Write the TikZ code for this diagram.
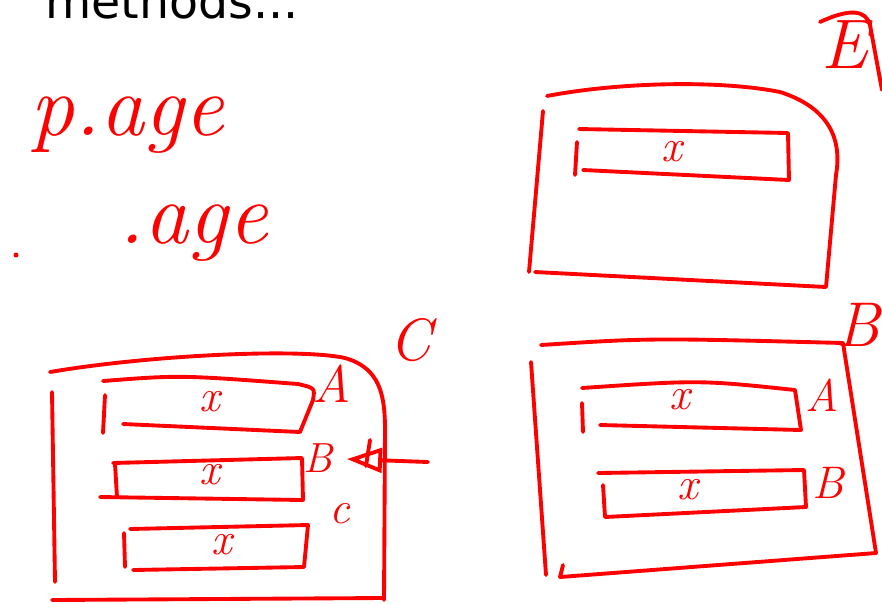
\documentclass[tikz,border=0pt]{standalone}
\usepackage{fontspec}
\newfontfamily\headfont{DejaVu Sans}
\usetikzlibrary{arrows.meta}

\begin{document}
\begin{tikzpicture}[x=0.02cm,y=-0.02cm,
 pen/.style={red,line width=2.2pt,line cap=round,line join=round},
 hand/.style={red,inner sep=0pt,font=\itshape\fontsize{#1}{#1}\selectfont},
 hand/.default=26]
\useasboundingbox (0,0) rectangle (882,603);
\clip (0,0) rectangle (882,603);
\node[anchor=base west,inner sep=0pt,font=\headfont\fontsize{27}{27}\selectfont] (title) at (45,18) {methods...};
\node[hand=50,anchor=base west] (page) at (30,135) {p.age};
\node[hand=50,anchor=base west] (age) at (118,243) {.age};
\fill[red] (16,255) circle (2.5);
% top right box E
\node[hand=40] (eLbl) at (845,45) {E};
\draw[pen] (820,22) .. controls (850,8) and (866,10) .. (870,25) -- (882,90);
\draw[pen] (547,96) .. controls (620,82) and (720,80) .. (780,92) .. controls (830,108) and (842,140) .. (836,175) -- (826,287) -- (535,272)
 (543,111) -- (529,272);
\draw[pen] (579,129) -- (788,133) -- (789,180) -- (583,170) (577,142) -- (575,175);
\node[hand] (eX) at (672,152) {x};
% bottom left box C
\node[hand=34] (cLbl) at (410,340) {C};
\draw[pen] (50,372) .. controls (150,355) and (300,348) .. (345,358) .. controls (380,368) and (385,395) .. (385,430) -- (384,600)
 (52,600) -- (383,598) (52,392) -- (55,582);
\draw[pen] (103,381) .. controls (180,375) .. (298,384) .. controls (315,388) .. (313,400) -- (300,432) -- (123,424) (105,395) -- (103,433);
\draw[pen] (113,463) -- (302,458) -- (303,500) -- (100,497) (115,464) -- (117,497);
\draw[pen] (130,529) -- (308,525) -- (304,567) -- (133,570) (124,533) -- (125,567);
\node[hand] (cAx) at (210,402) {x};
\node[hand] (cBx) at (210,475) {x};
\node[hand] (cCx) at (222,545) {x};
\node[hand=30] (cA) at (332,384) {A};
\node[hand=24] (cB) at (318,458) {B};
\node[hand=26] (cC) at (340,514) {c};
\coordinate (tail) at (428,462);
\draw[pen,-{Triangle[open,length=20pt,width=14pt]},shorten >=8pt] (tail) -- (cB);
\draw[pen] (370,440) -- (366,466);
% bottom right box B
\node[hand=36] (bLbl) at (858,325) {B};
\draw[pen] (541,345) .. controls (650,338) .. (843,343) -- (876,553) -- (560,577) -- (563,565)
 (531,362) -- (546,575);
\draw[pen] (582,388) .. controls (700,380) .. (795,390) -- (801,430) -- (600,425) (582,403) -- (583,432);
\draw[pen] (598,473) -- (804,470) -- (806,507) -- (605,517) (603,485) -- (605,517);
\node[hand] (bAx) at (680,400) {x};
\node[hand] (bBx) at (688,490) {x};
\node[hand=26] (bA) at (822,395) {A};
\node[hand=26] (bB) at (828,483) {B};
\end{tikzpicture}
\end{document}
